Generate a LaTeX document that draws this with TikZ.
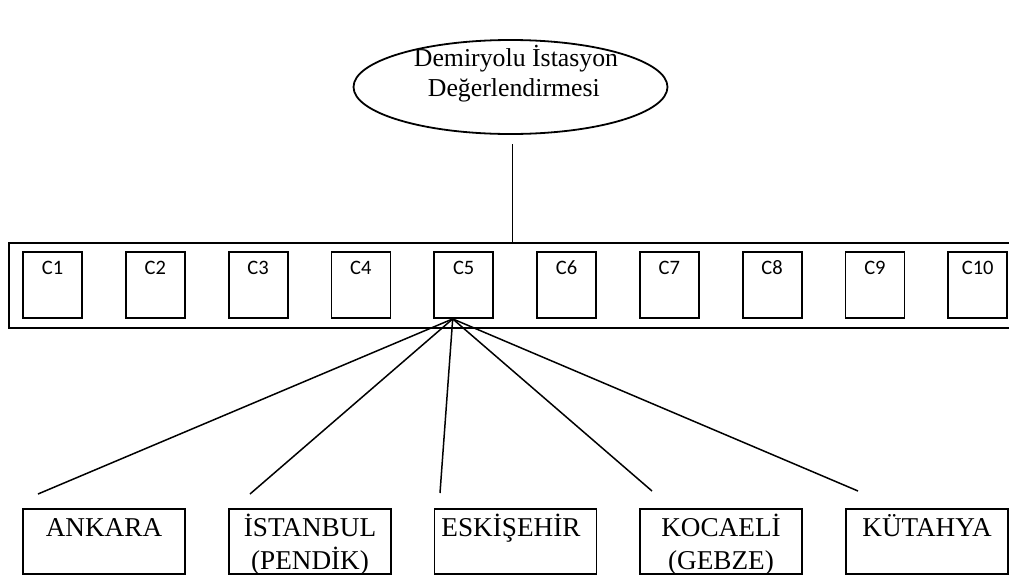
\documentclass[tikz,border=0pt]{standalone}
\usepackage{fontspec}
\setmainfont{Liberation Serif}
\newfontfamily\calib{Carlito}
\usetikzlibrary{shapes.geometric}
\begin{document}
\begin{tikzpicture}[x=1pt,y=-1pt, line width=1.8pt,
  cbox/.style={draw, minimum width=59pt, minimum height=66pt, inner sep=0pt},
  clab/.style={font=\calib\fontsize{20.5}{22}\selectfont, anchor=base, inner sep=0pt},
  city/.style={draw, minimum width=162pt, minimum height=65pt, inner sep=0pt},
  ctext/.style={font=\fontsize{27.2}{30}\selectfont, anchor=base, inner sep=0pt},
  gtext/.style={font=\fontsize{25.8}{30}\selectfont, anchor=base west, inner sep=0pt},
  link/.style={line width=1.5pt}]
\useasboundingbox (0,0) rectangle (1009,576);

% goal ellipse
\node[draw, ellipse, minimum width=314pt, minimum height=94pt, inner sep=0pt] (goal) at (510.5,87) {};
\node[gtext] (goal1) at (413,66) {Demiryolu İstasyon};
\node[gtext] (goal2) at (427,96) {Değerlendirmesi};

% criteria bar
\node[draw, minimum width=1004pt, minimum height=85pt, inner sep=0pt, anchor=north west] (bar) at (8,242) {};
\coordinate (gs) at (512.5,144);
\draw[link] (gs) -- (gs |- bar.north);

\foreach \i in {1,...,10} {
  \node[cbox] (c\i) at ({52.5+102.8*(\i-1)},285) {};
  \node[clab] (l\i) at ({52.5+102.8*(\i-1)},274.3) {C\i};
}

% alternatives
\node[city] (ank) at (104,541.5) {};
\node[city] (ist) at (310,541.5) {};
\node[city] (esk) at (515.5,541.5) {};
\node[city] (koc) at (721,541.5) {};
\node[city] (kut) at (927,541.5) {};

\node[ctext] (ankt) at (104,536.5) {ANKARA};
\node[ctext] (istt) at (310,536.5) {İSTANBUL};
\node[ctext] (istt2) at (310,569) {(PENDİK)};
\node[ctext] (eskt) at (511,536.5) {ESKİŞEHİR};
\node[ctext] (koct) at (721,536.5) {KOCAELİ};
\node[ctext] (koct2) at (721,569) {(GEBZE)};
\node[ctext] (kutt) at (927,536.5) {KÜTAHYA};

% connectors from C5
\coordinate (hub) at ([xshift=-11pt]c5.south);
\coordinate (e1) at (38,494);
\coordinate (e2) at (250,494);
\coordinate (e3) at (440,493);
\coordinate (e4) at (652,491);
\coordinate (e5) at (858,491);
\foreach \e in {e1,e2,e3,e4,e5} { \draw[link] (hub) -- (\e); }
\end{tikzpicture}
\end{document}
